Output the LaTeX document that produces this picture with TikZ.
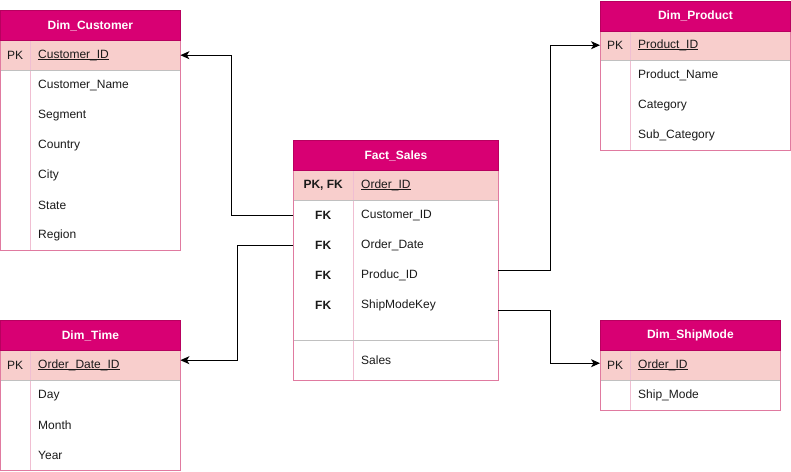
\documentclass[tikz,border=0pt]{standalone}
\usepackage{fontspec}
\setmainfont{Liberation Sans}
\usetikzlibrary{arrows.meta}
\definecolor{hdrfill}{HTML}{D80073}
\definecolor{hdrline}{HTML}{B8005F}
\definecolor{pkfill}{HTML}{F8CECC}
\definecolor{outerline}{HTML}{E07AA0}
\definecolor{divline}{HTML}{F0BED2}
\definecolor{sepline}{HTML}{C0C0C0}
\definecolor{txt}{HTML}{1A1A1A}
\newlength\pkulw
\newcommand\pkul[1]{\settowidth\pkulw{#1}\rlap{\rule[-1.7pt]{\pkulw}{0.9pt}}#1}
\tikzset{
  fnt/.style={font=\fontsize{12}{14}\selectfont},
  hdr/.style={draw=hdrline, fill=hdrfill, text=white, font=\bfseries\fontsize{12}{14}\selectfont,
    minimum height=30pt, inner sep=0pt, anchor=north west, line width=0.8pt},
  keycell/.style={fnt, text=txt, minimum height=30pt, inner sep=0pt, anchor=north west},
  fieldcell/.style={fnt, text=txt, minimum height=30pt, inner xsep=8pt, inner ysep=0pt,
    anchor=north west, align=left},
  pkbg/.style={fill=pkfill},
  outer/.style={draw=outerline, line width=1pt},
  divider/.style={draw=divline, line width=1pt},
  sepgray/.style={draw=sepline, line width=1pt},
  conn/.style={draw=black, line width=1pt, -{Stealth[length=9pt,width=8pt,inset=2.5pt]}},
}
\begin{document}
\begin{tikzpicture}[x=1pt,y=-1pt]
\useasboundingbox (0,0) rectangle (791,471);

% ---------------- Dim_Customer ----------------
\node[keycell, pkbg, minimum width=30pt] (cpkk) at (0,40) {PK};
\node[fieldcell, pkbg, text width=134pt] (cpk) at (30,40) {\pkul{Customer\_ID}};
\foreach \t [count=\i] in {Customer\_Name,Segment,Country,City,State,Region}
  \node[fieldcell, text width=134pt] (cf\i) at (30,40+30*\i) {\t};
\draw[divider] (30,40) -- (30,250);
\draw[sepgray] (0,70) -- (180,70);
\draw[outer] (0,40) rectangle (180,250);
\node[hdr, minimum width=180pt] (cust) at (0,10) {Dim\_Customer};

% ---------------- Dim_Time ----------------
\node[keycell, pkbg, minimum width=30pt] (tpkk) at (0,350) {PK};
\node[fieldcell, pkbg, text width=134pt] (tpk) at (30,350) {\pkul{Order\_Date\_ID}};
\foreach \t [count=\i] in {Day,Month,Year}
  \node[fieldcell, text width=134pt] (tf\i) at (30,350+30*\i) {\t};
\draw[divider] (30,350) -- (30,470);
\draw[sepgray] (0,380) -- (180,380);
\draw[outer] (0,350) rectangle (180,470);
\node[hdr, minimum width=180pt] (time) at (0,320) {Dim\_Time};

% ---------------- Fact_Sales ----------------
\node[keycell, pkbg, minimum width=60pt, font=\bfseries\fontsize{12}{14}\selectfont] (fpkk) at (293,170) {PK, FK};
\node[fieldcell, pkbg, text width=129pt] (fpk) at (353,170) {\pkul{Order\_ID}};
\foreach \t [count=\i] in {Customer\_ID,Order\_Date,Produc\_ID,ShipModeKey}
  \node[keycell, minimum width=60pt, font=\bfseries\fontsize{12}{14}\selectfont] (fk\i) at (293,170+30*\i) {FK};
\foreach \t [count=\i] in {Customer\_ID,Order\_Date,Produc\_ID,ShipModeKey}
  \node[fieldcell, text width=129pt] (ff\i) at (353,170+30*\i) {\t};
\node[keycell, minimum width=60pt, minimum height=40pt] (fsk) at (293,340) {};
\node[fieldcell, text width=129pt, minimum height=40pt] (fsales) at (353,340) {Sales};
\draw[divider] (353,170) -- (353,380);
\draw[sepgray] (293,200) -- (498,200);
\draw[sepgray] (293,340) -- (498,340);
\draw[outer] (293,170) rectangle (498,380);
\node[hdr, minimum width=205pt] (fact) at (293,140) {Fact\_Sales};

% ---------------- Dim_Product ----------------
\node[keycell, pkbg, minimum width=30pt] (ppkk) at (600,30) {PK};
\node[fieldcell, pkbg, text width=144pt] (ppk) at (630,30) {\pkul{Product\_ID}};
\foreach \t [count=\i] in {Product\_Name,Category,Sub\_Category}
  \node[fieldcell, text width=144pt] (pf\i) at (630,30+30*\i) {\t};
\draw[divider] (630,30) -- (630,150);
\draw[sepgray] (600,60) -- (790,60);
\draw[outer] (600,30) rectangle (790,150);
\node[hdr, minimum width=190pt] (prod) at (600,0.5) {Dim\_Product};

% ---------------- Dim_ShipMode ----------------
\node[keycell, pkbg, minimum width=30pt] (spkk) at (600,350) {PK};
\node[fieldcell, pkbg, text width=134pt] (spk) at (630,350) {\pkul{Order\_ID}};
\node[fieldcell, text width=134pt] (sf1) at (630,380) {Ship\_Mode};
\draw[divider] (630,350) -- (630,410);
\draw[sepgray] (600,380) -- (780,380);
\draw[outer] (600,350) rectangle (780,410);
\node[hdr, minimum width=180pt] (ship) at (600,320) {Dim\_ShipMode};

% ---------------- Connectors ----------------
\draw[conn] (fk1.west) -- ++(-62,0) |- (cpk.east);
\draw[conn] (fk2.west) -- ++(-56,0) |- ([yshift=5pt]tpk.east);
\draw[conn] ([yshift=5pt]ff3.east) -- ++(52,0) |- (ppkk.west);
\draw[conn] ([yshift=-5pt]ff4.east) -- ++(52,0) |- ([yshift=2pt]spkk.west);
\end{tikzpicture}
\end{document}
